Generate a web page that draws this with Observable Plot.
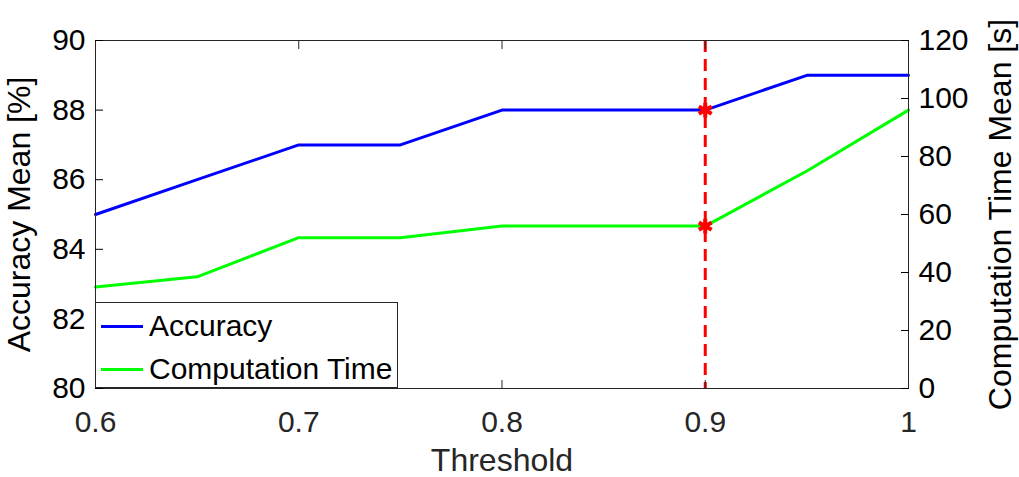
<!DOCTYPE html>
<html>
<head>
<meta charset="utf-8">
<script src="https://cdn.jsdelivr.net/npm/d3@7"></script>
<script src="https://cdn.jsdelivr.net/npm/@observablehq/plot@0.6"></script>
<style>
  html, body { margin: 0; padding: 0; background: #fff; }
  #wrap { position: relative; width: 1019px; height: 477px; font-family: "Liberation Sans", Arial, sans-serif; }
  #wrap svg { display: block; }
  #legend { position: absolute; left: 95px; top: 302px; width: 303px; height: 86px; border: 1px solid #262626; background: #fff; box-sizing: border-box; }
  .li { position: absolute; left: 0; height: 40px; display: flex; align-items: center; font-size: 30px; color: #000; }
  .li span.sw { display: inline-block; width: 42px; height: 3px; margin-left: 5px; margin-right: 6px; }
  g[aria-label="y-axis label"] text, g[aria-label="x-axis label"] text { font-size: 32px; }
</style>
</head>
<body>
<div id="wrap"></div>
<script>
// ---- data ----
const thresholds = [0.6, 0.65, 0.7, 0.75, 0.8, 0.85, 0.9, 0.95, 1.0];
const accuracyMean = [85, 86, 87, 87, 88, 88, 88, 89, 89];
const computationTimeMean = [35, 38.5, 52, 52, 56, 56, 56, 75, 96];
const selectedThreshold = 0.9;
const xTicks = [0.6, 0.7, 0.8, 0.9, 1.0];
const leftTicks = [80, 82, 84, 86, 88, 90];
const rightTicks = [0, 20, 40, 60, 80, 100, 120];
const seriesNames = ["Accuracy", "Computation Time"];
const seriesColors = ["#0000ff", "#00ff00"];

// map right axis (0..120) onto left axis (80..90)
const toLeft = t => 80 + t / 12;

const accData = thresholds.map((x, i) => ({x, y: accuracyMean[i]}));
const timeData = thresholds.map((x, i) => ({x, y: toLeft(computationTimeMean[i])}));
const selIdx = thresholds.indexOf(selectedThreshold);
const selData = [
  {x: selectedThreshold, y: accuracyMean[selIdx]},
  {x: selectedThreshold, y: toLeft(computationTimeMean[selIdx])}
];

const chart = Plot.plot({
  width: 1019,
  height: 477,
  marginLeft: 95,
  marginRight: 111,
  marginTop: 40,
  marginBottom: 89,
  style: {fontFamily: '"Liberation Sans", Arial, sans-serif', background: "#fff"},
  x: {domain: [0.6, 1.0]},
  y: {domain: [80, 90]},
  marks: [
    Plot.ruleX([selectedThreshold], {stroke: "#ff0000", strokeWidth: 3, strokeDasharray: "12,7"}),
    Plot.line(accData, {x: "x", y: "y", stroke: seriesColors[0], strokeWidth: 3}),
    Plot.line(timeData, {x: "x", y: "y", stroke: seriesColors[1], strokeWidth: 3}),
    Plot.dot(selData, {x: "x", y: "y", symbol: "asterisk", r: 7, stroke: "#ff0000", strokeWidth: 4}),
    Plot.frame({stroke: "#262626", strokeWidth: 1}),
    Plot.axisX({anchor: "bottom", ticks: xTicks, tickSize: -8, tickPadding: 30, fontSize: 30, color: "#262626",
      tickFormat: d => String(+d.toFixed(1)), label: "Threshold", labelAnchor: "center", labelArrow: "none", labelOffset: 82}),
    Plot.axisX({anchor: "top", ticks: xTicks, tickSize: -8, tickFormat: () => "", label: null, color: "#262626"}),
    Plot.axisY({anchor: "left", ticks: leftTicks, tickSize: -8, tickPadding: 18, fontSize: 30, color: "#000",
      tickFormat: d => String(d), label: "Accuracy Mean [%]", labelAnchor: "center", labelArrow: "none", labelOffset: 88}),
    Plot.axisY({anchor: "right", ticks: rightTicks.map(toLeft), tickSize: -8, tickPadding: 18, fontSize: 30, color: "#000",
      tickFormat: d => String(Math.round((d - 80) * 12)), label: "Computation Time Mean [s]", labelAnchor: "center", labelArrow: "none", labelOffset: 102})
  ]
});

const wrap = document.getElementById("wrap");
wrap.appendChild(chart);

// legend overlay (inside plot area, lower-left)
const legend = document.createElement("div");
legend.id = "legend";
seriesNames.forEach((name, i) => {
  const row = document.createElement("div");
  row.className = "li";
  row.style.top = (i === 0 ? 3 : 46) + "px";
  const sw = document.createElement("span");
  sw.className = "sw";
  sw.style.background = seriesColors[i];
  row.appendChild(sw);
  row.appendChild(document.createTextNode(name));
  legend.appendChild(row);
});
wrap.appendChild(legend);
</script>
</body>
</html>
